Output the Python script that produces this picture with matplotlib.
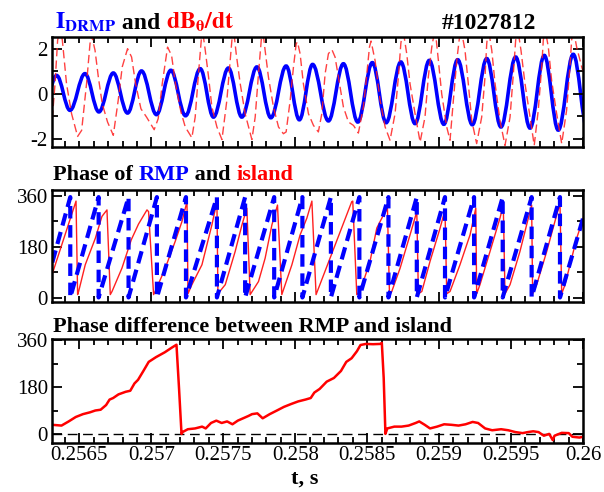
import numpy as np
import matplotlib
matplotlib.use("Agg")
import matplotlib.pyplot as plt
from matplotlib.path import Path
from matplotlib.patches import PathPatch
from matplotlib.ticker import MultipleLocator, FuncFormatter, NullFormatter

plt.rcParams['font.family'] = ['Liberation Serif', 'DejaVu Serif']
plt.rcParams['mathtext.fontset'] = 'stix'
plt.rcParams['axes.unicode_minus'] = False

# ---------------- data ----------------
# I_DRMP: extrema (peaks / troughs) of the RMP coil current
idrmp_t = [0.256250, 0.256342, 0.256435, 0.256539, 0.256636, 0.256736, 0.256835, 0.256932,
           0.257036, 0.257136, 0.257238, 0.257340, 0.257432, 0.257536, 0.257629, 0.257734,
           0.257831, 0.257937, 0.258029, 0.258121, 0.258231, 0.258335, 0.258435, 0.258536,
           0.258632, 0.258734, 0.258833, 0.258932, 0.259033, 0.259129, 0.259231, 0.259331,
           0.259430, 0.259532, 0.259632, 0.259731, 0.259828, 0.259932, 0.260033]
idrmp_v = [-0.68, 0.81, -0.74, 0.89, -0.81, 0.92, -0.86, 1.01, -0.93, 1.04, -0.98, 1.11,
           -1.04, 1.14, -1.04, 1.19, -1.07, 1.23, -1.16, 1.30, -1.21, 1.33, -1.26, 1.38,
           -1.29, 1.41, -1.33, 1.48, -1.36, 1.51, -1.38, 1.56, -1.48, 1.63, -1.53, 1.70,
           -1.62, 1.75, -1.65]

# dB_theta/dt (red dashed)
dbdt_t = [0.256312, 0.256331, 0.256349, 0.256366, 0.256382, 0.256411, 0.256446, 0.256488,
          0.256516, 0.256550, 0.256574, 0.256585, 0.256609, 0.256632, 0.256659, 0.256696,
          0.256736, 0.256770, 0.256798, 0.256835, 0.256863, 0.256891, 0.256928, 0.256967,
          0.257020, 0.257048, 0.257076, 0.257113, 0.257141, 0.257168, 0.257206, 0.257236,
          0.257282, 0.257305, 0.257328, 0.257345, 0.257354, 0.257375, 0.257398, 0.257421,
          0.257456, 0.257491, 0.257525, 0.257548, 0.257560, 0.257571, 0.257590, 0.257618,
          0.257652, 0.257699, 0.257722, 0.257745, 0.257764, 0.257773, 0.257791, 0.257814,
          0.257849, 0.257884, 0.257918, 0.257937, 0.257965, 0.257988, 0.258007, 0.258016,
          0.258034, 0.258057, 0.258092, 0.258127, 0.258161, 0.258185, 0.258208, 0.258231,
          0.258255, 0.258277, 0.258300, 0.258335, 0.258370, 0.258405, 0.258439, 0.258474,
          0.258498, 0.258516, 0.258527, 0.258555, 0.258590, 0.258625, 0.258659, 0.258694,
          0.258717, 0.258734, 0.258748, 0.258775, 0.258798, 0.258833, 0.258868, 0.258902,
          0.258925, 0.258949, 0.258972, 0.258995, 0.259018, 0.259053, 0.259076, 0.259099,
          0.259123, 0.259139, 0.259152, 0.259180, 0.259203, 0.259227, 0.259261, 0.259296,
          0.259319, 0.259331, 0.259342, 0.259366, 0.259389, 0.259423, 0.259458, 0.259493,
          0.259516, 0.259532, 0.259546, 0.259569, 0.259597, 0.259632, 0.259661, 0.259689,
          0.259713, 0.259724, 0.259736, 0.259759, 0.259782, 0.259817, 0.259852, 0.259886,
          0.259909, 0.259921, 0.259932, 0.259956, 0.259991, 0.260000]
dbdt_v = [-1.11, 0.44, 2.37, 2.90, 2.37, 0.44, -0.89, -1.90,
          -1.63, 0.44, 2.22, 2.60, 1.93, 0.74, -0.44, -1.26,
          -1.85, -0.30, 1.19, 2.00, 1.63, 0.44, -0.67, -1.04,
          -1.60, -1.11, 0.44, 2.07, 1.70, 0.44, -0.81, -1.48,
          -1.96, -1.04, 0.89, 2.22, 2.90, 1.93, 0.74, -0.59,
          -1.48, -2.04, -0.30, 1.48, 2.37, 2.90, 1.78, 0.44,
          -0.89, -2.04, -1.04, 0.89, 2.37, 2.90, 1.93, 0.74,
          -0.59, -1.48, -1.78, -1.70, -0.30, 1.19, 2.22, 2.30,
          1.78, 0.44, -0.89, -1.41, -1.70, -0.89, 0.89, 1.78,
          1.96, 1.63, 0.74, -0.59, -1.26, -1.41, -1.75, -0.59,
          0.89, 2.07, 2.34, 1.48, -0.30, -1.48, -2.07, -0.89,
          0.74, 2.22, 2.90, 1.78, 0.44, -0.89, -2.15, -1.04,
          0.74, 2.07, 2.90, 1.48, 0.00, -1.48, -2.07, -0.30,
          1.48, 2.37, 2.90, 1.93, 0.44, -1.19, -2.22, -1.04,
          0.74, 2.22, 2.90, 1.93, 0.44, -1.19, -2.30, -1.04,
          0.89, 2.37, 2.90, 1.93, 0.44, -1.04, -2.30, -0.74,
          1.19, 2.37, 2.90, 2.07, 0.59, -0.89, -2.22, -0.74,
          1.19, 2.37, 2.90, 2.07, 1.19, 1.00]

# Phase of RMP (blue dashed sawtooth), degrees
rmp_t = [0.256312,
         0.256437, 0.256437, 0.256634, 0.256634, 0.256842, 0.256842, 0.257039, 0.257039,
         0.257241, 0.257241, 0.257456, 0.257456, 0.257652, 0.257652, 0.257854, 0.257854,
         0.258050, 0.258050, 0.258248, 0.258248, 0.258446, 0.258446, 0.258648, 0.258648,
         0.258845, 0.258845, 0.259041, 0.259041, 0.259243, 0.259243, 0.259442, 0.259442,
         0.259643, 0.259643, 0.259840, 0.259840,
         0.260000]
rmp_phase = [125,
             355, 2, 355, 2, 355, 2, 355, 2,
             355, 2, 355, 2, 355, 2, 355, 2,
             355, 2, 355, 2, 355, 2, 355, 2,
             355, 2, 355, 2, 355, 2, 355, 2,
             355, 2, 355, 2,
             280]

# Phase of island (red solid), degrees
island_t = [0.256314, 0.256477, 0.256488, 0.256495, 0.256541, 0.256611, 0.256657, 0.256692,
            0.256715, 0.256727, 0.256796, 0.256861, 0.256911, 0.256970, 0.256981, 0.257016,
            0.257027, 0.257097, 0.257166, 0.257213, 0.257248, 0.257255, 0.257282, 0.257352,
            0.257421, 0.257456, 0.257463, 0.257514, 0.257583, 0.257630, 0.257664, 0.257687,
            0.257745, 0.257791, 0.257838, 0.257877, 0.257907, 0.257977, 0.258034, 0.258081,
            0.258116, 0.258145, 0.258393, 0.258400, 0.258428, 0.258451, 0.258520, 0.258567,
            0.258602, 0.258641, 0.258655, 0.258671, 0.258729, 0.258798, 0.258845, 0.258856,
            0.258880, 0.258937, 0.259007, 0.259041, 0.259053, 0.259076, 0.259145, 0.259215,
            0.259255, 0.259261, 0.259284, 0.259354, 0.259423, 0.259446, 0.259458, 0.259493,
            0.259562, 0.259620, 0.259643, 0.259650, 0.259678, 0.259748, 0.259817, 0.259840,
            0.259852, 0.259875, 0.259956, 0.260002]
island_phase = [88, 341, 12, 23, 117, 210, 287, 310,
                12, 23, 105, 205, 260, 310, 304, 12,
                23, 105, 199, 269, 339, 15, 47, 117,
                257, 339, 15, 47, 164, 257, 316, 12,
                58, 140, 257, 327, 12, 117, 222, 281,
                341, 12, 339, 341, 12, 23, 129, 246,
                281, 316, 15, 23, 105, 222, 304, 15,
                23, 129, 246, 310, 15, 23, 117, 222,
                316, 15, 47, 164, 281, 327, 15, 47,
                164, 281, 327, 15, 47, 164, 292, 333,
                15, 47, 210, 281]

# Phase difference between RMP and island, degrees
dphi_t = [0.256310, 0.256376, 0.256426, 0.256475, 0.256525, 0.256574, 0.256611, 0.256648,
          0.256686, 0.256710, 0.256735, 0.256772, 0.256822, 0.256854, 0.256883, 0.256908,
          0.256945, 0.256982, 0.257032, 0.257094, 0.257143, 0.257175, 0.257193, 0.257210,
          0.257217, 0.257254, 0.257304, 0.257353, 0.257378, 0.257415, 0.257452, 0.257489,
          0.257527, 0.257564, 0.257601, 0.257638, 0.257675, 0.257700, 0.257737, 0.257774,
          0.257823, 0.257873, 0.257922, 0.257972, 0.258021, 0.258071, 0.258108, 0.258133,
          0.258170, 0.258219, 0.258269, 0.258318, 0.258355, 0.258392, 0.258429, 0.258454,
          0.258491, 0.258541, 0.258590, 0.258602, 0.258615, 0.258627, 0.258640, 0.258689,
          0.258739, 0.258788, 0.258837, 0.258862, 0.258900, 0.258937, 0.258986, 0.259035,
          0.259085, 0.259135, 0.259184, 0.259233, 0.259271, 0.259320, 0.259369, 0.259431,
          0.259481, 0.259530, 0.259580, 0.259617, 0.259654, 0.259691, 0.259728, 0.259765,
          0.259790, 0.259802, 0.259852, 0.259901, 0.259926, 0.259975, 0.260012]
dphi_v = [35, 32, 48, 65, 76, 83, 90, 93,
          111, 132, 138, 152, 162, 166, 194, 208,
          242, 277, 295, 314, 332, 343, 173, 0,
          7, 18, 21, 28, 21, 42, 51, 42,
          48, 37, 51, 60, 69, 76, 79, 60,
          76, 90, 104, 115, 125, 132, 138, 159,
          173, 201, 215, 242, 277, 291, 318, 342,
          346, 345, 346, 350, 215, 0, 21, 28,
          28, 32, 42, 48, 35, 21, 28, 37,
          35, 32, 37, 46, 42, 21, 14, 18,
          14, 7, 3, 7, 10, 7, -7, 0,
          -24, -7, 4, 3, -11, -14, -10]

shot_label = "#1027812"
xticks_bottom = [0.2565, 0.257, 0.2575, 0.258, 0.2585, 0.259, 0.2595, 0.26]

# ---------------- figure ----------------
W, H = 604, 492
fig = plt.figure(figsize=(W / 100, H / 100), dpi=100)
fig.patch.set_facecolor('white')

def px_axes(x0, y0, x1, y1):
    return fig.add_axes([x0 / W, 1 - y1 / H, (x1 - x0) / W, (y1 - y0) / H])

ax1 = px_axes(52, 37, 583, 147)
ax2 = px_axes(52, 190, 583, 302)
ax3 = px_axes(52, 339, 583, 443)

XL = (0.25631, 0.26)
TICKFS = 15

def style(ax, ylim, ymaj, ymin, xmaj, labels_x=False):
    ax.set_xlim(*XL)
    ax.set_ylim(*ylim)
    ax.xaxis.set_major_locator(MultipleLocator(xmaj))
    ax.xaxis.set_minor_locator(MultipleLocator(0.0001))
    ax.yaxis.set_major_locator(MultipleLocator(ymaj))
    ax.yaxis.set_minor_locator(MultipleLocator(ymin))
    ax.tick_params(which='both', direction='in', top=True, right=True, width=1.3,
                   labelsize=TICKFS, pad=3)
    ax.tick_params(which='major', length=7)
    ax.tick_params(which='minor', length=4)
    for s in ax.spines.values():
        s.set_linewidth(1.8)
    if not labels_x:
        ax.xaxis.set_major_formatter(NullFormatter())
    else:
        ax.xaxis.set_major_formatter(FuncFormatter(lambda v, p: ('%.4f' % v).rstrip('0')))

# ---- top panel ----
style(ax1, (-2.37, 2.52), 2, 1, 0.001)
ax1.yaxis.set_major_formatter(FuncFormatter(lambda v, p: '%d' % round(v)))
ax1.plot(dbdt_t, dbdt_v, color='#ff2020', lw=1.0, ls=(0, (6, 3)), alpha=0.85)

k = 0.3634
verts = [(idrmp_t[0], idrmp_v[0])]
codes = [Path.MOVETO]
for i in range(len(idrmp_t) - 1):
    dt = idrmp_t[i + 1] - idrmp_t[i]
    verts += [(idrmp_t[i] + k * dt, idrmp_v[i]),
              (idrmp_t[i + 1] - k * dt, idrmp_v[i + 1]),
              (idrmp_t[i + 1], idrmp_v[i + 1])]
    codes += [Path.CURVE4] * 3
ax1.add_patch(PathPatch(Path(verts, codes), facecolor='none', edgecolor='#0000ff', lw=2.6))

# ---- middle panel ----
style(ax2, (-14, 380), 180, 90, 0.001)
ax2.plot(island_t, island_phase, color='#ff2020', lw=1.0)
ax2.plot(rmp_t, rmp_phase, color='#0000ff', lw=3.0, ls=(0, (3, 1.6)))

# ---- bottom panel ----
style(ax3, (-35, 365), 180, 90, 0.0005, labels_x=True)
ax3.set_xticks(xticks_bottom)
ax3.axhline(0, color='black', lw=1.0, ls=(0, (7, 4)))
ax3.plot(dphi_t, dphi_v, color='#ff0000', lw=1.8)
ax3.tick_params(axis='x', pad=2)
fig.text(305 / W, 1 - 479 / H, 't, s', ha='center', va='center', fontsize=16, fontweight='bold')

# ---- titles (multi-coloured) ----
fig.canvas.draw()
renderer = fig.canvas.get_renderer()

def rich(x_px, base_px, parts, fs=16):
    x = x_px
    for s, c in parts:
        t = fig.text(x / W, 1 - base_px / H, s, color=c, fontsize=fs, fontweight='bold',
                     ha='left', va='baseline')
        bb = t.get_window_extent(renderer=renderer)
        x += bb.width

rich(55, 29, [(r'$\mathbf{I}_{\mathbf{DRMP}}$', '#0000ff'), (' and ', 'black'),
              (r'$\mathbf{dB}_{\mathbf{\theta}}\mathbf{/dt}$', '#ff0000')], fs=17)
fig.text(442 / W, 1 - 29 / H, shot_label, fontsize=17, fontweight='bold', ha='left', va='baseline')
rich(53, 180, [('Phase of ', 'black'), ('RMP', '#0000ff'), (' and ', 'black'), ('island', '#ff0000')])
rich(53, 332, [('Phase difference between RMP and island', 'black')])

fig.savefig('out.png', dpi=100, facecolor='white')
